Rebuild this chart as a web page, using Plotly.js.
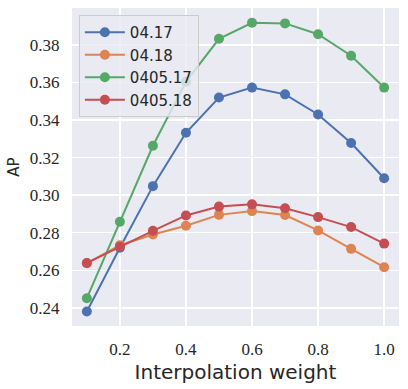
<!DOCTYPE html>
<html>
<head>
<meta charset="utf-8">
<script src="https://cdn.plot.ly/plotly-3.0.1.min.js"></script>
<style>
  html, body { margin: 0; padding: 0; background: #ffffff; }
  #chart { width: 408px; height: 389px; }
</style>
</head>
<body>
<div id="chart"></div>
<script>
// Pesos de interpolación (eje x)
const weights = [0.1, 0.2, 0.3, 0.4, 0.5, 0.6, 0.7, 0.8, 0.9, 1.0]

// AP por serie
const ap_0417 = [0.238, 0.272, 0.3048, 0.3332, 0.352, 0.3573, 0.3537, 0.343, 0.3278, 0.309]
const ap_0418 = [0.2637, 0.2733, 0.279, 0.2837, 0.2895, 0.2915, 0.2894, 0.2812, 0.2714, 0.2616]
const ap_040517 = [0.2451, 0.2858, 0.3263, 0.3604, 0.3833, 0.3918, 0.3915, 0.3857, 0.3743, 0.3573]
const ap_040518 = [0.2639, 0.2725, 0.281, 0.2892, 0.2939, 0.2951, 0.293, 0.2883, 0.283, 0.2742]

const seriesNames = ["04.17", "04.18", "0405.17", "0405.18"]
const seriesValues = [ap_0417, ap_0418, ap_040517, ap_040518]
const colors = ["#4c72b0", "#dd8452", "#55a868", "#c44e52"]

const xTicks = [0.2, 0.4, 0.6, 0.8, 1.0]
const xTickText = ["0.2", "0.4", "0.6", "0.8", "1.0"]
const yTicks = [0.24, 0.26, 0.28, 0.30, 0.32, 0.34, 0.36, 0.38]
const yTickText = ["0.24", "0.26", "0.28", "0.30", "0.32", "0.34", "0.36", "0.38"]

const traces = seriesNames.map((name, i) => ({
  x: weights,
  y: seriesValues[i],
  type: "scatter",
  mode: "lines+markers",
  name: name,
  line: { color: colors[i], width: 2 },
  marker: { color: colors[i], size: 10 },
}))

const tickFont = { family: "Times New Roman, Liberation Serif, serif", size: 17, color: "#262626" }

const layout = {
  width: 408,
  height: 389,
  margin: { l: 72, r: 9, t: 8, b: 63 },
  paper_bgcolor: "#ffffff",
  plot_bgcolor: "#eaeaf2",
  font: { family: "DejaVu Sans", color: "#262626" },
  showlegend: true,
  legend: {
    x: 0.021,
    y: 0.978,
    xanchor: "left",
    yanchor: "top",
    bgcolor: "rgba(234,234,242,0.8)",
    bordercolor: "#cccccc",
    borderwidth: 1,
    itemwidth: 40,
    font: { size: 15, color: "#262626" },
  },
  xaxis: {
    range: [0.055, 1.045],
    tickvals: xTicks,
    ticktext: xTickText,
    tickfont: tickFont,
    ticks: "outside",
    ticklen: 8,
    tickcolor: "rgba(0,0,0,0)",
    gridcolor: "#ffffff",
    gridwidth: 1.5,
    zeroline: false,
    showline: false,
    title: { text: "Interpolation weight", font: { size: 20, color: "#262626" }, standoff: 6 },
  },
  yaxis: {
    range: [0.2303, 0.3997],
    tickvals: yTicks,
    ticktext: yTickText,
    tickfont: tickFont,
    ticks: "outside",
    ticklen: 8,
    tickcolor: "rgba(0,0,0,0)",
    gridcolor: "#ffffff",
    gridwidth: 1.5,
    zeroline: false,
    showline: false,
    title: { text: "AP", font: { size: 15, color: "#262626" }, standoff: 6 },
  },
}

Plotly.newPlot("chart", traces, layout, { displayModeBar: false, staticPlot: true })
</script>
</body>
</html>
